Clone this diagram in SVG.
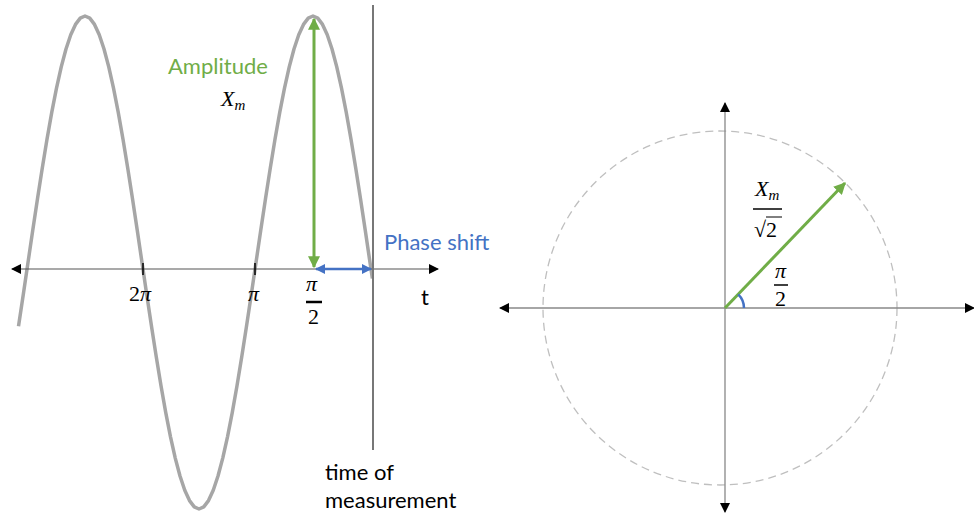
<svg xmlns="http://www.w3.org/2000/svg" width="974" height="516" viewBox="0 0 974 516">
<style>
.lbl{font-family:Lato,"Liberation Sans",sans-serif;font-size:22px}
.math{font-family:"Liberation Serif","DejaVu Serif",serif;font-size:22px;fill:#000}
.it{font-style:italic}
.axis{stroke:#555;stroke-width:1.2;fill:none}
.raxis{stroke:#888;stroke-width:1.3;fill:none}
</style>
<defs>
<marker id="ak" viewBox="0 0 10 10" refX="9" refY="5" markerWidth="10" markerHeight="10" markerUnits="userSpaceOnUse" orient="auto-start-reverse"><path d="M0,0 L10,5 L0,10 Z" fill="#000"/></marker>
<marker id="ag" viewBox="0 0 10 10" refX="9" refY="5" markerWidth="12" markerHeight="12" markerUnits="userSpaceOnUse" orient="auto-start-reverse"><path d="M0,0 L10,5 L0,10 Z" fill="#70AD47"/></marker>
<marker id="ab" viewBox="0 0 10 10" refX="9" refY="5" markerWidth="10" markerHeight="10" markerUnits="userSpaceOnUse" orient="auto-start-reverse"><path d="M0,0 L10,5 L0,10 Z" fill="#4472C4"/></marker>
</defs>
<g id="sine">
<path fill="none" stroke="#A6A6A6" stroke-width="3.5" stroke-linejoin="round" stroke-linecap="butt" d="M18.5,326.3 L23.25,294.7 L28,262.5 L32.75,230.3 L37.5,198.7 L42.25,168.2 L47,139.3 L51.75,112.4 L56.5,88.2 L61.25,66.9 L66,49 L70.75,34.8 L75.5,24.4 L80.25,18.1 L85,16 L89.75,18.1 L94.5,24.4 L99.25,34.8 L104,49 L108.75,66.9 L113.5,88.2 L118.25,112.4 L123,139.3 L127.75,168.2 L132.5,198.7 L137.25,230.3 L142,262.5 L146.75,294.7 L151.5,326.3 L156.25,356.8 L161,385.7 L165.75,412.6 L170.5,436.8 L175.25,458.1 L180,476 L184.75,490.2 L189.5,500.6 L194.25,506.9 L199,509 L203.75,506.9 L208.5,500.6 L213.25,490.2 L218,476 L222.75,458.1 L227.5,436.8 L232.25,412.6 L237,385.7 L241.75,356.8 L246.5,326.3 L251.25,294.7 L256,262.5 L260.75,230.3 L265.5,198.7 L270.25,168.2 L275,139.3 L279.75,112.4 L284.5,88.2 L289.25,66.9 L294,49 L298.75,34.8 L303.5,24.4 L308.25,18.1 L313,16 L317.75,18.1 L322.5,24.4 L327.25,34.8 L332,49 L336.75,66.9 L341.5,88.2 L346.25,112.4 L351,139.3 L355.75,168.2 L360.5,198.7 L365.25,230.3 L370,262.5 L372.4,278.6"/>
</g>
<g id="connectors">
<line class="axis" x1="12" y1="269" x2="438" y2="269" marker-start="url(#ak)" marker-end="url(#ak)"/>
<line x1="143" y1="263" x2="143" y2="275" stroke="#000" stroke-width="1.5"/>
<line x1="255" y1="263" x2="255" y2="275" stroke="#000" stroke-width="1.5"/>
<line x1="373" y1="5" x2="373" y2="450" stroke="#777" stroke-width="2"/>
<line x1="314" y1="19" x2="314" y2="267" stroke="#70AD47" stroke-width="3" marker-start="url(#ag)" marker-end="url(#ag)"/>
<line x1="316" y1="269" x2="371" y2="269" stroke="#4472C4" stroke-width="2.5" marker-start="url(#ab)" marker-end="url(#ab)"/>
<circle cx="720" cy="308" r="177" fill="none" stroke="#BFBFBF" stroke-width="1.3" stroke-dasharray="8 5"/>
<line class="raxis" x1="500" y1="308" x2="974" y2="308" marker-start="url(#ak)" marker-end="url(#ak)"/>
<line class="raxis" x1="725" y1="103" x2="725" y2="512" marker-start="url(#ak)" marker-end="url(#ak)"/>
<line x1="725" y1="308" x2="845" y2="183" stroke="#70AD47" stroke-width="3" marker-end="url(#ag)"/>
<path d="M744,308 A19,19 0 0 0 738.2,294.3" fill="none" stroke="#4472C4" stroke-width="2.5"/>
</g>
<g id="labels">
<text class="lbl" x="168" y="74" fill="#70AD47">Amplitude</text>
<text class="math it" x="221" y="106">X<tspan font-size="15" dy="4">m</tspan></text>
<text class="lbl" x="384" y="250" fill="#4472C4">Phase shift</text>
<text class="math" x="129" y="301">2<tspan class="it">π</tspan></text>
<text class="math it" x="248" y="301">π</text>
<text class="math it" x="306" y="291">π</text>
<line x1="306" y1="302" x2="322" y2="302" stroke="#000" stroke-width="2.5"/>
<text class="math" x="308" y="324">2</text>
<text class="lbl" x="421" y="305" fill="#000">t</text>
<text class="lbl" x="325" y="480" fill="#000">time of</text>
<text class="lbl" x="325" y="508" fill="#000">measurement</text>
<text class="math it" x="755" y="196">X<tspan font-size="15" dy="4">m</tspan></text>
<line x1="753" y1="209" x2="782" y2="209" stroke="#000" stroke-width="1.5"/>
<text class="math" x="754" y="237">√2</text>
<line x1="766" y1="217" x2="782" y2="217" stroke="#000" stroke-width="1"/>
<text class="math it" x="775" y="278">π</text>
<line x1="774" y1="285" x2="788" y2="285" stroke="#000" stroke-width="1.5"/>
<text class="math" x="775" y="306">2</text>
</g>
</svg>
